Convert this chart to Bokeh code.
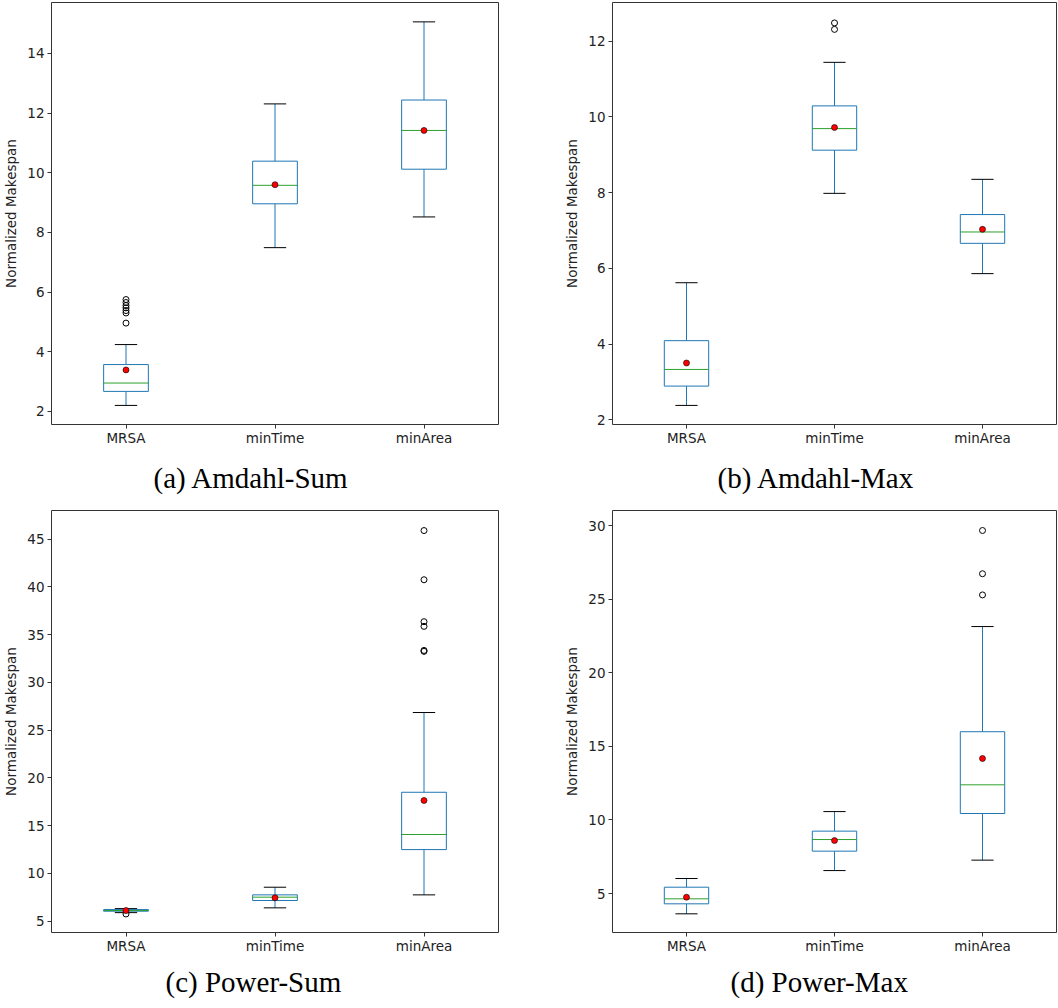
from bokeh.plotting import figure
from bokeh.layouts import column, row
from bokeh.models import FixedTicker, Title, ColumnDataSource
from bokeh.embed import file_html
from bokeh.resources import INLINE

categories = ["MRSA", "minTime", "minArea"]

# (a) Amdahl-Sum
a_low = [2.20, 7.49, 8.52]
a_q1 = [2.67, 8.96, 10.12]
a_med = [2.95, 9.58, 11.42]
a_q3 = [3.57, 10.39, 12.44]
a_high = [4.24, 12.31, 15.06]
a_mean = [3.39, 9.60, 11.42]
a_out = [[4.96, 5.30, 5.38, 5.47, 5.55, 5.65, 5.75], [], []]

# (b) Amdahl-Max
b_low = [2.38, 7.98, 5.86]
b_q1 = [2.89, 9.12, 6.66]
b_med = [3.33, 9.69, 6.96]
b_q3 = [4.09, 10.29, 7.42]
b_high = [5.62, 11.44, 8.35]
b_mean = [3.50, 9.72, 7.03]
b_out = [[], [12.31, 12.48], []]

# (c) Power-Sum
c_low = [5.90, 6.40, 7.76]
c_q1 = [6.05, 7.17, 12.50]
c_med = [6.12, 7.52, 14.08]
c_q3 = [6.22, 7.76, 18.50]
c_high = [6.32, 8.56, 26.85]
c_mean = [6.12, 7.45, 17.64]
c_out = [[5.76], [], [33.25, 33.35, 35.87, 36.36, 40.75, 45.90]]

# (d) Power-Max
d_low = [3.62, 6.56, 7.27]
d_q1 = [4.30, 7.88, 10.44]
d_med = [4.64, 8.67, 12.39]
d_q3 = [5.43, 9.24, 16.00]
d_high = [6.02, 10.57, 23.15]
d_mean = [4.75, 8.60, 14.18]
d_out = [[], [], [25.30, 26.74, 29.68]]

captions = ["(a) Amdahl-Sum", "(b) Amdahl-Max", "(c) Power-Sum", "(d) Power-Max"]

BLUE = "#1f77b4"
GREEN = "#2ca02c"
FONT = "DejaVu Sans"


def make_panel(low, q1, med, q3, high, mean, outl, yr, yticks, caption,
               width, height, left, right, bottom, cap_offset, cap_standoff):
    p = figure(width=width, height=height, x_range=(0.5, 3.5), y_range=yr,
               output_backend="svg", toolbar_location=None,
               min_border_left=left, min_border_right=right,
               min_border_top=2, min_border_bottom=bottom)
    p.grid.visible = False
    p.outline_line_color = "#333333"
    p.outline_line_width = 1
    pos = [1, 2, 3]
    hw = 0.15
    cw = 0.075
    src = ColumnDataSource(dict(x=pos, low=low, q1=q1, med=med, q3=q3, high=high, mean=mean,
                                l=[x - hw for x in pos], r=[x + hw for x in pos],
                                cl=[x - cw for x in pos], cr=[x + cw for x in pos]))
    p.segment(x0="x", x1="x", y0="q3", y1="high", source=src, line_color=BLUE, line_width=1)
    p.segment(x0="x", x1="x", y0="low", y1="q1", source=src, line_color=BLUE, line_width=1)
    p.segment(x0="cl", x1="cr", y0="high", y1="high", source=src, line_color="black", line_width=1)
    p.segment(x0="cl", x1="cr", y0="low", y1="low", source=src, line_color="black", line_width=1)
    p.quad(left="l", right="r", bottom="q1", top="q3", source=src,
           fill_color=None, line_color=BLUE, line_width=1)
    p.segment(x0="l", x1="r", y0="med", y1="med", source=src, line_color=GREEN, line_width=1)
    ox, oy = [], []
    for i, vals in enumerate(outl):
        for v in vals:
            ox.append(pos[i])
            oy.append(v)
    if ox:
        p.scatter(ox, oy, marker="circle", size=6, fill_color=None, line_color="black", line_width=1)
    p.scatter(x="x", y="mean", source=src, marker="circle", size=6,
              fill_color="red", line_color="black", line_width=0.6)

    p.xaxis.ticker = FixedTicker(ticks=pos)
    p.xaxis.major_label_overrides = {i + 1: c for i, c in enumerate(categories)}
    p.yaxis.ticker = FixedTicker(ticks=yticks)
    p.yaxis.axis_label = "Normalized Makespan"
    for ax in (p.xaxis, p.yaxis):
        ax.axis_line_color = None
        ax.major_tick_in = 0
        ax.major_tick_out = 4
        ax.major_tick_line_color = "#333333"
        ax.minor_tick_line_color = None
        ax.major_label_text_font = FONT
        ax.major_label_text_font_size = "13.5px"
        ax.major_label_text_color = "#222222"
        ax.major_label_standoff = 3
        ax.axis_label_text_font = FONT
        ax.axis_label_text_font_size = "13.5px"
        ax.axis_label_text_font_style = "normal"
        ax.axis_label_text_color = "#222222"
        ax.axis_label_standoff = 5
    p.xaxis.major_label_standoff = 1
    t = Title(text=caption, align="left", offset=cap_offset,
              text_font="Liberation Serif", text_font_size="29px",
              text_font_style="normal", text_color="black", standoff=cap_standoff)
    p.add_layout(t, "below")
    return p


pa = make_panel(a_low, a_q1, a_med, a_q3, a_high, a_mean, a_out, (1.56, 15.71),
                [2, 4, 6, 8, 10, 12, 14], captions[0], 529, 508, 49, 31, 84, 102, 22)
pb = make_panel(b_low, b_q1, b_med, b_q3, b_high, b_mean, b_out, (1.876, 13.02),
                [2, 4, 6, 8, 10, 12], captions[1], 529, 508, 83, 2, 84, 105, 22)
pc = make_panel(c_low, c_q1, c_med, c_q3, c_high, c_mean, c_out, (3.82, 48.0),
                [5, 10, 15, 20, 25, 30, 35, 40, 45], captions[2], 529, 500, 49, 31, 76, 114, 15)
pd_ = make_panel(d_low, d_q1, d_med, d_q3, d_high, d_mean, d_out, (2.35, 31.04),
                 [5, 10, 15, 20, 25, 30], captions[3], 529, 500, 83, 2, 76, 118, 15)

layout = column(row(pa, pb), row(pc, pd_))
open("out.html", "w").write(file_html(layout, INLINE))
